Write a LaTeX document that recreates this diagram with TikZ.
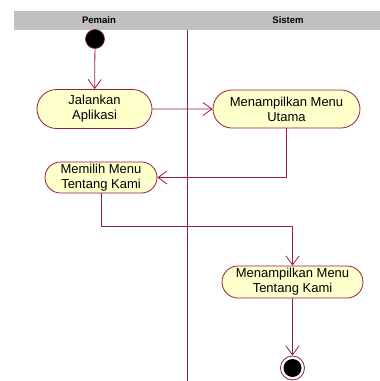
\documentclass[tikz,border=0pt]{standalone}
\usepackage{fontspec}
\setmainfont{Liberation Sans}
\usetikzlibrary{shapes.misc,arrows.meta}
\definecolor{umlline}{RGB}{150,30,70}
\definecolor{umlfill}{RGB}{255,255,204}
\definecolor{lanehead}{RGB}{192,192,192}
\begin{document}
\begin{tikzpicture}[x=1pt,y=-1pt,
  act/.style={rounded rectangle, draw=umlline, fill=umlfill, line width=0.8pt,
    align=center, inner sep=0pt, font=\fontsize{13}{15}\selectfont},
  flow/.style={draw=umlline, line width=0.8pt,
    -{Straight Barb[length=9pt,width=13pt,line width=0.8pt]}},
  lanetitle/.style={font=\bfseries\fontsize{9.5}{10}\selectfont, inner sep=0pt},
]
\useasboundingbox (0,0) rectangle (380,381);

% swimlane header and divider
\fill[lanehead] (14,11) rectangle (380,30);
\node[lanetitle] (h1) at (99,20.5) {Pemain};
\node[lanetitle] (h2) at (288,20.5) {Sistem};
\coordinate (divtop) at (187,30);
\coordinate (divbot) at (187,381);
\draw[umlline, line width=0.8pt] (divtop) -- (divbot);

% initial node
\node[circle, fill=black, draw=umlline, line width=0.6pt, minimum size=19pt, inner sep=0pt] (start) at (95,39) {};

% activities
\node[act, minimum width=115pt, minimum height=39pt] (jal) at (94.5,109) {Jalankan\\Aplikasi};
\node[act, minimum width=147pt, minimum height=38pt] (uta) at (286.5,109) {Menampilkan Menu\\Utama};
\node[act, minimum width=112pt, minimum height=31pt] (mem) at (101,177.5) {Memilih Menu\\Tentang Kami};
\node[act, minimum width=141pt, minimum height=32pt] (ten) at (292.5,282) {Menampilkan Menu\\Tentang Kami};

% final node
\node[circle, draw=umlline, fill=white, line width=0.8pt, minimum size=24pt, inner sep=0pt] (end) at (292.5,368) {};
\node[circle, fill=black, minimum size=18pt, inner sep=0pt] (endin) at (end) {};

% control flows
\coordinate (bend) at (101,226);
\draw[flow] (start) -- (jal);
\draw[flow] (jal) -- (uta);
\draw[flow] (uta.south) |- (mem.east);
\draw[flow] (mem.south) -- (bend) -| (ten.north);
\draw[flow] (ten) -- (end);
\end{tikzpicture}
\end{document}
